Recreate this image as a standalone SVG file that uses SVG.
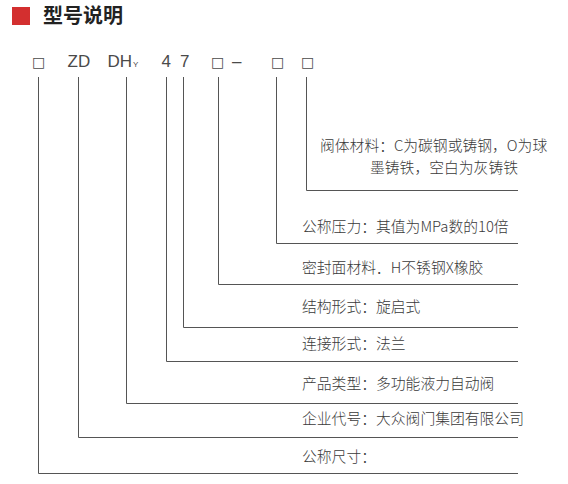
<svg xmlns="http://www.w3.org/2000/svg" width="568" height="484" viewBox="0 0 568 484">
<style>
.t{font-family:"Noto Sans CJK SC","Noto Sans",sans-serif;font-size:14.8px;font-weight:300;fill:#3a3a3a}
.c{font-family:"Liberation Sans",Arial,sans-serif;font-size:17px;fill:#4a4a4a}
.b{font-family:"DejaVu Sans",sans-serif;font-size:14px;fill:#4a4a4a}
.ln{fill:none;stroke:#555;stroke-width:1}
</style>
<rect width="568" height="484" fill="#fff"/>
<g id="header">
<rect x="12" y="7" width="18" height="18" fill="#d32f2f"/>
<text x="43" y="22.5" style="font-family:'Noto Sans CJK SC',sans-serif;font-size:20px;font-weight:bold;fill:#222">型号说明</text>
</g>
<g id="code">
<text class="b" x="32" y="67">□</text>
<text class="c" x="67.5" y="67">ZD</text>
<text class="c" x="107.5" y="67">DH</text>
<text class="c" x="133" y="67" style="font-size:8px">Y</text>
<text class="c" x="161.5" y="67">4</text>
<text class="c" x="180" y="67">7</text>
<text class="b" x="211" y="67">□</text>
<text class="c" x="232" y="67">–</text>
<text class="b" x="271" y="67">□</text>
<text class="b" x="301" y="67">□</text>
</g>
<g id="connectors">
<polyline class="ln" points="38.5,77 38.5,473.5 518,473.5"/>
<polyline class="ln" points="78.5,77 78.5,437.5 518,437.5"/>
<polyline class="ln" points="126.5,77 126.5,403.5 518,403.5"/>
<polyline class="ln" points="166.5,77 166.5,361.5 518,361.5"/>
<polyline class="ln" points="183.5,77 183.5,327.5 518,327.5"/>
<polyline class="ln" points="218.5,77 218.5,284.5 518,284.5"/>
<polyline class="ln" points="276.5,77 276.5,243.5 518,243.5"/>
<polyline class="ln" points="306.5,77 306.5,190.5 518,190.5"/>
</g>
<g id="label-material">
<text class="t" x="320" y="150.5">阀体材料：C为碳钢或铸钢，O为球</text>
<text class="t" x="370" y="172.5">墨铸铁，空白为灰铸铁</text>
</g>
<g id="label-pressure"><text class="t" x="302" y="231.5">公称压力：其值为MPa数的10倍</text></g>
<g id="label-seal"><text class="t" x="302" y="272.5">密封面材料．H不锈钢X橡胶</text></g>
<g id="label-structure"><text class="t" x="302" y="311.5">结构形式：旋启式</text></g>
<g id="label-connection"><text class="t" x="302" y="349">连接形式：法兰</text></g>
<g id="label-type"><text class="t" x="302" y="388.5">产品类型：多功能液力自动阀</text></g>
<g id="label-company"><text class="t" x="302" y="424">企业代号：大众阀门集团有限公司</text></g>
<g id="label-size"><text class="t" x="302" y="461.5">公称尺寸：</text></g>
</svg>
